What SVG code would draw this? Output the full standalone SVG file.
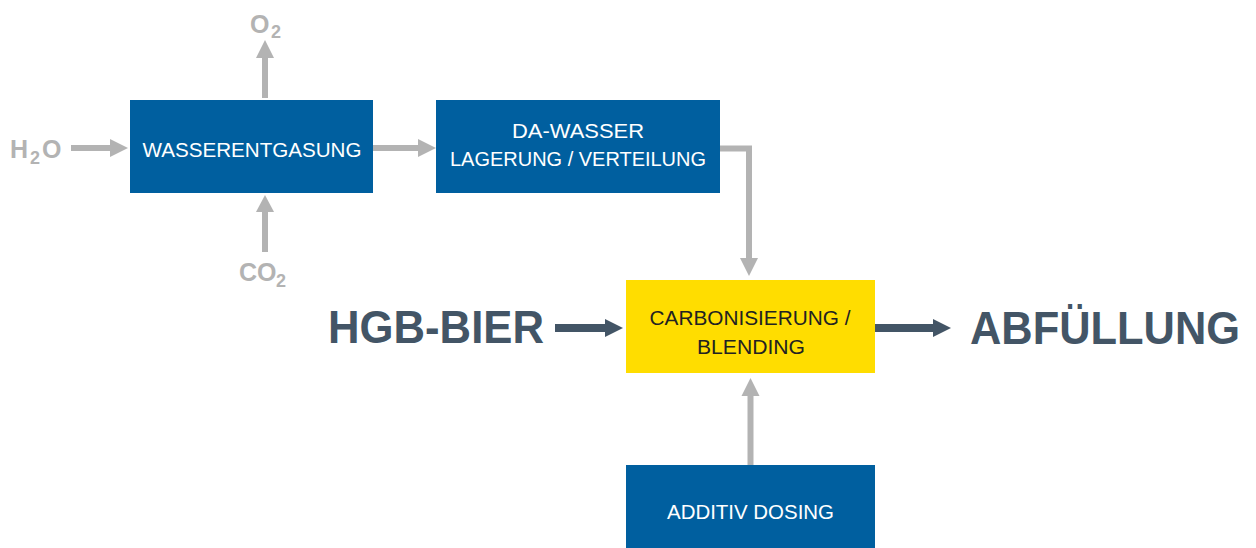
<svg xmlns="http://www.w3.org/2000/svg" width="1256" height="548" viewBox="0 0 1256 548">
<style>
.blue{fill:#005f9f}
.yel{fill:#ffdd00}
.bt{font-family:"Liberation Sans",Arial,sans-serif;font-size:20px;fill:#ffffff;text-anchor:middle}
.yt{font-family:"Liberation Sans",Arial,sans-serif;font-size:20px;fill:#222222;text-anchor:middle}
.gl{font-family:"Liberation Sans",Arial,sans-serif;font-weight:bold;fill:#b3b3b3}
.big{font-family:"Liberation Sans",Arial,sans-serif;font-weight:bold;font-size:46px;fill:#435566}
.g{stroke:#b3b3b3;stroke-width:6;fill:none}
.d{stroke:#435566;stroke-width:8;fill:none}
.gh{fill:#b3b3b3}
.dh{fill:#435566}
</style>
<rect width="1256" height="548" fill="#ffffff"/>
<g id="connectors">
<line class="g" x1="265" y1="98" x2="265" y2="56"/>
<polygon class="gh" points="256,58 274,58 265,40"/>
<line class="g" x1="71" y1="148" x2="112" y2="148"/>
<polygon class="gh" points="110,139 110,157 128,148"/>
<line class="g" x1="265" y1="252" x2="265" y2="210"/>
<polygon class="gh" points="256,212 274,212 265,195"/>
<line class="g" x1="373" y1="148" x2="420" y2="148"/>
<polygon class="gh" points="418,139 418,157 436,148"/>
<polyline class="g" points="720,148.5 749,148.5 749,260"/>
<polygon class="gh" points="740,258 758,258 749,276"/>
<line class="g" x1="750.5" y1="465" x2="750.5" y2="394"/>
<polygon class="gh" points="741.5,396 759.5,396 750.5,378"/>
<line class="d" x1="555" y1="328" x2="608" y2="328"/>
<polygon class="dh" points="605,319 605,337 623,328"/>
<line class="d" x1="875" y1="328" x2="936" y2="328"/>
<polygon class="dh" points="933,319 933,337 951,328"/>
</g>
<g id="o2"><text class="gl" font-size="25" x="250" y="33">O</text><text class="gl" font-size="18" x="271" y="38">2</text></g>
<g id="h2o"><text class="gl" font-size="25" x="10" y="158">H</text><text class="gl" font-size="18" x="30" y="164">2</text><text class="gl" font-size="25" x="42" y="158">O</text></g>
<g id="co2"><text class="gl" font-size="25" x="239" y="281">CO</text><text class="gl" font-size="18" x="276" y="287">2</text></g>
<g id="wasserentgasung"><rect class="blue" x="130" y="100" width="243" height="93"/><text class="bt" x="252" y="157" textLength="219" lengthAdjust="spacingAndGlyphs">WASSERENTGASUNG</text></g>
<g id="dawasser"><rect class="blue" x="436" y="100" width="284" height="93"/><text class="bt" x="578" y="138" textLength="132" lengthAdjust="spacingAndGlyphs">DA-WASSER</text><text class="bt" x="578" y="166" textLength="256" lengthAdjust="spacingAndGlyphs">LAGERUNG / VERTEILUNG</text></g>
<g id="carbonisierung"><rect class="yel" x="626" y="280" width="249" height="93"/><text class="yt" x="750" y="325" textLength="201" lengthAdjust="spacingAndGlyphs">CARBONISIERUNG /</text><text class="yt" x="751" y="354" textLength="108" lengthAdjust="spacingAndGlyphs">BLENDING</text></g>
<g id="additiv"><rect class="blue" x="626" y="465" width="249" height="83"/><text class="bt" x="750.5" y="519" textLength="167" lengthAdjust="spacingAndGlyphs">ADDITIV DOSING</text></g>
<g id="hgb"><text class="big" x="328" y="343" textLength="216" lengthAdjust="spacingAndGlyphs">HGB-BIER</text></g>
<g id="abfuellung"><text class="big" x="970" y="344" textLength="270" lengthAdjust="spacingAndGlyphs">ABFÜLLUNG</text></g>
</svg>
